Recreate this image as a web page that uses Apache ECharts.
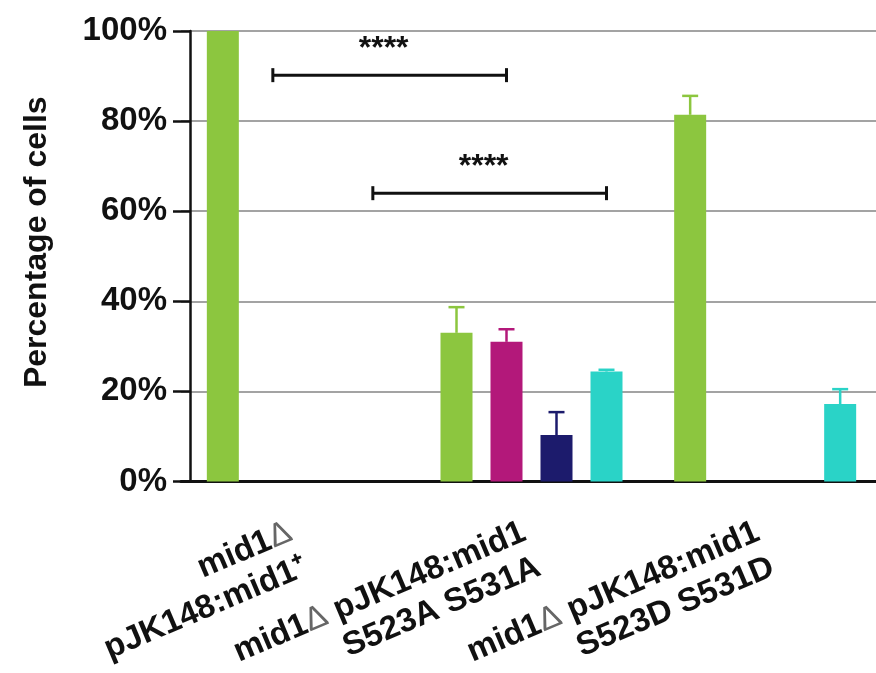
<!DOCTYPE html>
<html>
<head>
<meta charset="utf-8">
<script src="https://cdn.jsdelivr.net/npm/echarts@6/dist/echarts.min.js"></script>
<style>
  html, body { margin: 0; padding: 0; background: #fff; }
  #chart { width: 876px; height: 673px; }
</style>
</head>
<body>
<div id="chart"></div>
<script>
// Strains on the x axis
const categories = [
  'mid1\u0394\npJK148:mid1\u207A',
  'mid1\u0394 pJK148:mid1\nS523A S531A',
  'mid1\u0394 pJK148:mid1\nS523D S531D'
];

// Four phenotype classes (percentage of cells), one value per strain
const seriesNames = ['Class 1', 'Class 2', 'Class 3', 'Class 4'];
const class1Mean = [100, 33.0, 81.4];
const class2Mean = [null, 31.0, null];
const class3Mean = [null, 10.3, null];
const class4Mean = [null, 24.4, 17.2];

// Upper error (SD) for each bar
const class1Err = [0, 5.7, 4.2];
const class2Err = [null, 2.8, null];
const class3Err = [null, 5.1, null];
const class4Err = [null, 0.4, 3.3];

// Significance brackets: [category, class slot] -> [category, class slot] at a level
const bracketFrom = [[0, 1], [0, 3]];
const bracketTo = [[1, 1], [1, 3]];
const bracketLevel = [90.2, 64];
const bracketText = ['****', '****'];

const colors = ['#8cc63f', '#b3187a', '#1c1b6c', '#2ad3c7'];
const means = [class1Mean, class2Mean, class3Mean, class4Mean];
const errs = [class1Err, class2Err, class3Err, class4Err];

const FONT = '"Liberation Sans", Arial, Helvetica, sans-serif';
const BAR_W = 32;
const BAR_GAP = 18;
const slotOffset = (slot) => (slot - 1.5) * (BAR_W + BAR_GAP);

const barSeries = means.map((vals, i) => ({
  name: seriesNames[i],
  type: 'bar',
  data: vals,
  barWidth: BAR_W,
  barGap: (BAR_GAP / BAR_W * 100) + '%',
  itemStyle: { color: colors[i] },
  z: 2
}));

// Error bar items: [category, slot, mean, upper error]
const errData = [];
means.forEach((vals, slot) => {
  vals.forEach((m, c) => {
    if (m != null && errs[slot][c] != null && errs[slot][c] > 0) {
      errData.push([c, slot, m, errs[slot][c]]);
    }
  });
});

const errorSeries = {
  type: 'custom',
  data: errData,
  encode: { x: 0, y: 2 },
  z: 3,
  silent: true,
  renderItem: function (params, api) {
    const c = api.value(0), slot = api.value(1), m = api.value(2), e = api.value(3);
    const base = api.coord([c, m]);
    const top = api.coord([c, m + e]);
    const x = base[0] + slotOffset(slot);
    const col = colors[slot];
    return {
      type: 'group',
      children: [
        { type: 'line', shape: { x1: x, y1: base[1], x2: x, y2: top[1] },
          style: { stroke: col, lineWidth: 2.5 } },
        { type: 'line', shape: { x1: x - 8, y1: top[1], x2: x + 8, y2: top[1] },
          style: { stroke: col, lineWidth: 2.5 } }
      ]
    };
  }
};

const bracketData = bracketFrom.map((f, i) => [f[0], f[1], bracketTo[i][0], bracketTo[i][1], bracketLevel[i]]);

const bracketSeries = {
  type: 'custom',
  data: bracketData,
  encode: { x: 0, y: 4 },
  z: 4,
  silent: true,
  renderItem: function (params, api) {
    const p1 = api.coord([api.value(0), api.value(4)]);
    const p2 = api.coord([api.value(2), api.value(4)]);
    const x1 = p1[0] + slotOffset(api.value(1));
    const x2 = p2[0] + slotOffset(api.value(3));
    const y = p1[1];
    const st = { stroke: '#111', lineWidth: 3 };
    return {
      type: 'group',
      children: [
        { type: 'line', shape: { x1: x1, y1: y, x2: x2, y2: y }, style: st },
        { type: 'line', shape: { x1: x1, y1: y - 7, x2: x1, y2: y + 7 }, style: st },
        { type: 'line', shape: { x1: x2, y1: y - 7, x2: x2, y2: y + 7 }, style: st },
        { type: 'text', style: {
            text: bracketText[params.dataIndex],
            x: (x1 + x2) / 2 - 6, y: y - 26,
            align: 'center', verticalAlign: 'middle',
            font: 'bold 32px ' + FONT, fill: '#111' } }
      ]
    };
  }
};

const LABEL_SIZE = 33;
const LABEL_LH = 38;

const chart = echarts.init(document.getElementById('chart'), null, { renderer: 'canvas' });
chart.setOption({
  animation: false,
  backgroundColor: '#fff',
  grid: { left: 181, top: 31, width: 701, height: 450.5, containLabel: false, outerBoundsMode: 'none' },
  xAxis: {
    type: 'category',
    data: categories,
    axisLine: { lineStyle: { color: '#111', width: 3 } },
    axisTick: { alignWithLabel: true, length: 17, lineStyle: { color: '#111', width: 2.5 } },
    axisLabel: {
      interval: 0, rotate: 23, margin: 67,
      fontSize: LABEL_SIZE, lineHeight: LABEL_LH, fontWeight: 'bold',
      fontFamily: FONT, color: '#111',
      // the delta sign is set in a lighter weight
      formatter: (v) => v.split('\n').map(l => l.replace(/([^\u0394]+)|(\u0394)/g,
        (s, a, d) => a ? '{t|' + a + '}' : '{d|' + d + '}')).join('\n'),
      rich: {
        t: { fontSize: LABEL_SIZE, lineHeight: LABEL_LH, fontWeight: 'bold', fontFamily: FONT, color: '#111' },
        d: { fontSize: LABEL_SIZE, lineHeight: LABEL_LH, fontWeight: 'normal', fontFamily: FONT, color: '#666' }
      }
    }
  },
  yAxis: {
    type: 'value',
    min: 0, max: 100, interval: 20,
    offset: -9,
    name: 'Percentage of cells',
    nameLocation: 'middle',
    nameGap: 137,
    nameTextStyle: { fontSize: 32, fontWeight: 'bold', fontFamily: FONT, color: '#111', padding: [0, 0, 0, 28] },
    axisLine: { show: true, lineStyle: { color: '#111', width: 2.5 } },
    axisTick: { show: true, length: 17, lineStyle: { color: '#111', width: 2.5 } },
    axisLabel: { formatter: '{value}%', margin: 23, fontSize: 33, fontWeight: 'bold', fontFamily: FONT, color: '#111' },
    splitLine: { lineStyle: { color: '#a3a3a3', width: 2 } }
  },
  series: barSeries.concat([errorSeries, bracketSeries])
});
</script>
</body>
</html>
